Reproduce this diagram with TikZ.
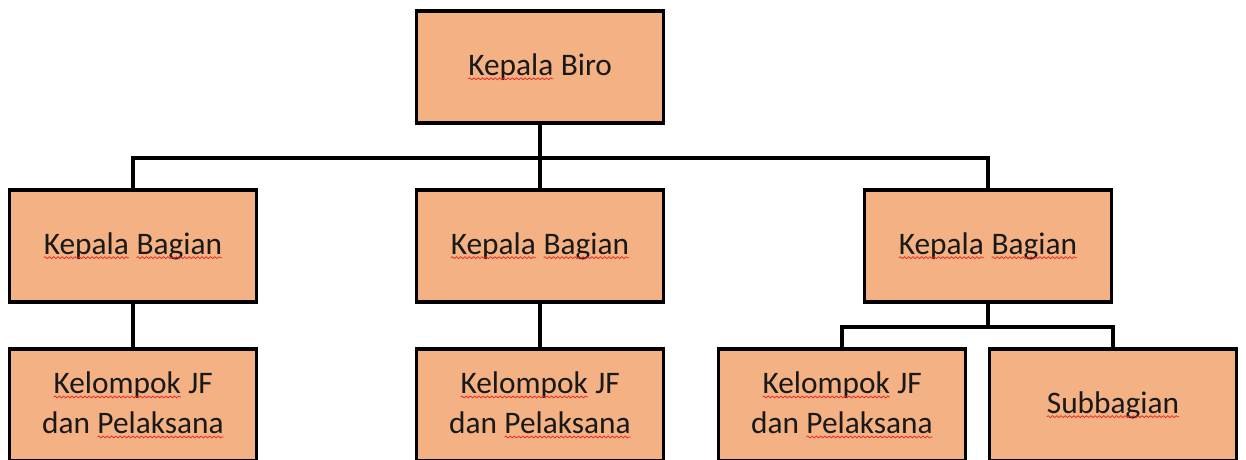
\documentclass[tikz,border=0pt]{standalone}
\usepackage{fontspec}
\setmainfont{Carlito}
\usetikzlibrary{decorations.pathmorphing}
\definecolor{boxfill}{RGB}{244,177,131}
\definecolor{spellred}{RGB}{230,40,40}
% word with a wavy red underline
\newcommand\spellmark[1]{\tikz[baseline=(w.base), x=1pt, y=1pt, line width=0.55pt]{%
  \node[inner sep=0pt, outer sep=0pt, minimum size=0pt] (w) {#1};%
  \draw[spellred, decorate, decoration={snake, amplitude=0.7pt, segment length=3.2pt}]
    ([yshift=-2.6pt]w.base west) -- ([yshift=-2.6pt]w.base east);}}

\begin{document}
\begin{tikzpicture}[x=0.75pt,y=-0.75pt,
  unit/.style={draw=black, line width=2.4pt, fill=boxfill,
    minimum width=185pt, minimum height=84pt, inner sep=0pt,
    align=center, text=black!90, font=\fontsize{23.5}{30}\selectfont},
  link/.style={line width=3.4pt, line cap=rect}]
\useasboundingbox (0,0) rectangle (1246,460);
\clip (0,0) rectangle (1246,460);

% head
\node[unit] (head) at (540,67) {\raisebox{-1.5pt}{\spellmark{Kepala} Biro}};

% second level
\node[unit] (b1) at (133,246) {\raisebox{-1.5pt}{\spellmark{Kepala} \spellmark{Bagian}}};
\node[unit] (b2) at (540,246) {\raisebox{-1.5pt}{\spellmark{Kepala} \spellmark{Bagian}}};
\node[unit] (b3) at (988,246) {\raisebox{-1.5pt}{\spellmark{Kepala} \spellmark{Bagian}}};

% third level
\node[unit] (c1) at (133,405) {\spellmark{Kelompok} JF\\dan \spellmark{Pelaksana}};
\node[unit] (c2) at (540,405) {\spellmark{Kelompok} JF\\dan \spellmark{Pelaksana}};
\node[unit] (c3) at (842,405) {\spellmark{Kelompok} JF\\dan \spellmark{Pelaksana}};
\node[unit] (c4) at (1113,405) {\spellmark{Subbagian}};

% junctions
\coordinate (j1) at (540,158);
\coordinate (j2) at (988,327);

% connectors
\draw[link] (head.south) -- (b2.north);
\draw[link] (b1.north) |- (j1) -| (b3.north);
\draw[link] (b1.south) -- (c1.north);
\draw[link] (b2.south) -- (c2.north);
\draw[link] (b3.south) -- (j2);
\draw[link] (c3.north) |- (j2) -| (c4.north);
\end{tikzpicture}
\end{document}
